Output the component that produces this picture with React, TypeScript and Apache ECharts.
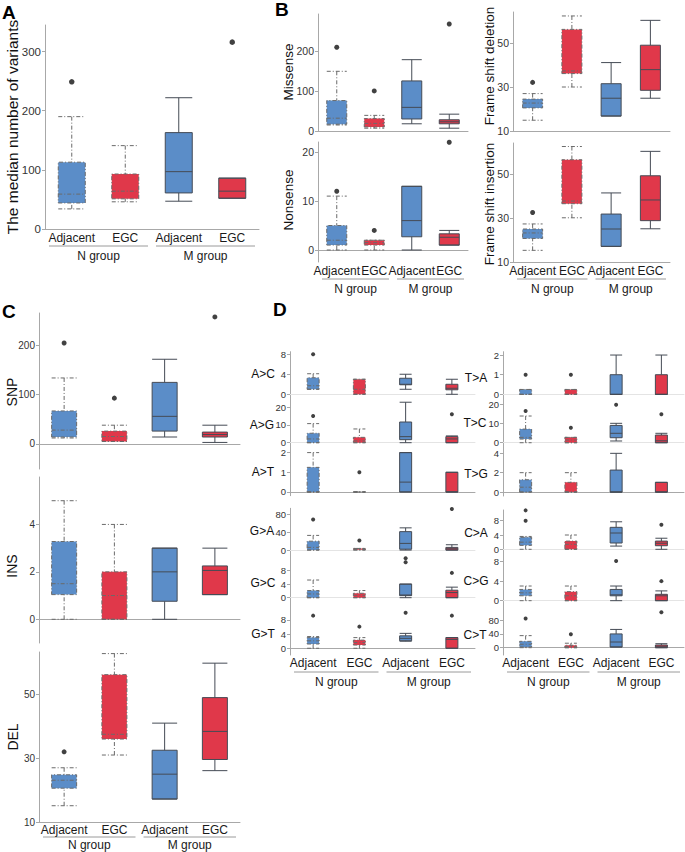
import React, { useEffect, useRef } from "react";
import * as echarts from "echarts";

// ---------- data ----------
const categories = ["Adjacent", "EGC", "Adjacent", "EGC"];
const groups = ["N group", "M group"];

// box values: [min, Q1, median, Q3, max]; outliers: [categoryIndex, value]
const variantsBox = [[34, 44, 59, 113, 190], [46, 51, 64, 93, 141], [47, 61, 97, 163, 222], [52, 52, 64, 86, 86]];
const variantsOut = [[0, 249], [3, 316]];

const missenseBox = [[15, 17, 32, 76, 149], [7, 10, 19, 31, 39], [18, 30, 59, 125, 178], [7, 18, 23, 28, 42]];
const missenseOut = [[0, 209], [1, 100], [3, 267]];
const nonsenseBox = [[0, 1, 2, 5, 11], [0, 1, 1.5, 2, 2], [0, 2.7, 6, 13, 13], [1, 1, 2.6, 3.3, 4]];
const nonsenseOut = [[0, 12], [1, 4], [3, 22]];
const fsDelBox = [[14.9, 20.5, 22.7, 24.5, 27], [30, 36.1, 37.3, 56.2, 62.3], [16.8, 16.8, 24.9, 31.5, 41.1], [24.9, 28.5, 37.9, 49, 60.3]];
const fsDelOut = [[0, 32.1]];
const fsInsBox = [[15.3, 20.7, 23.2, 25, 27.3], [30.1, 36.5, 37.7, 56.5, 62.5], [17.1, 17.1, 25, 31.8, 41.4], [25.1, 28.8, 38.2, 49.2, 60.3]];
const fsInsOut = [[0, 32.5]];

const snpBox = [[12, 14, 28, 67, 134], [5, 5, 15, 26, 38], [14, 26, 56, 125, 172], [3, 14, 19, 24, 38]];
const snpOut = [[0, 205], [1, 93], [3, 258]];
const insBox = [[0, 1.04, 1.5, 3.28, 5], [0, 0, 1, 2, 4], [0, 0.76, 2, 3, 3], [1.04, 1.04, 2.06, 2.25, 3]];
const insOut: number[][] = [];
const delBox = [[15.1, 20.6, 23.1, 24.8, 27], [31, 36, 37.5, 56.2, 62.8], [17.2, 17.2, 25, 32.5, 41], [26.1, 29.6, 38.4, 49, 59.8]];
const delOut = [[0, 32]];

const acBox = [[1, 1, 1.7, 3.3, 4.1], [0, 0, 1, 3, 3], [1, 1.9, 2, 3.2, 4], [0, 0.9, 1.2, 2, 3]];
const acOut = [[0, 8]];
const agBox = [[0, 0, 2.1, 5.3, 10.7], [0, 0, 1, 3, 7.7], [0, 1.7, 3.4, 11.6, 22.7], [0, 0, 2.1, 3.4, 3.8]];
const agOut = [[0, 15], [3, 16]];
const atBox = [[0, 0, 0, 1.25, 2], [0, 0, 0, 0, 0], [0, 0, 0.5, 2, 2], [0, 0, 0, 1, 1]];
const atOut = [[1, 1]];
const gaBox = [[0, 0, 6, 20, 33], [0, 0.5, 2, 3.7, 3.7], [0, 2, 15, 41.5, 50], [0, 0, 3, 6, 12]];
const gaOut = [[0, 69], [1, 21.5], [3, 92.6]];
const gcBox = [[0, 0, 1.1, 2.1, 5.2], [0, 0, 0.7, 1.3, 2.1], [0, 0.6, 0.8, 4, 4], [0, 0, 1.5, 2.2, 3.1]];
const gcOut = [[2, 11.6], [2, 10.4], [3, 7.3]];
const gtBox = [[0, 1.2, 2.1, 3, 3.3], [0, 0.9, 1.6, 2.3, 3], [2, 2.1, 2.8, 3.5, 4.2], [0, 0, 2.5, 3, 3]];
const gtOut = [[0, 9.2], [1, 6.1], [2, 10], [3, 9.2]];
const taBox = [[0, 0, 0, 0.25, 0.25], [0, 0, 0, 0.25, 0.25], [0, 0, 0, 1, 2], [0, 0, 0, 1, 2]];
const taOut = [[0, 1], [1, 1]];
const tcBox = [[0, 1.9, 2.8, 7.1, 13.9], [0, 0, 1.4, 2.8, 2.8], [0.9, 2.6, 4.9, 9, 10.1], [0, 0, 1, 4, 4.9]];
const tcOut = [[0, 16.5], [1, 7.8], [2, 19.8], [3, 14.8]];
const tgBox = [[0, 0, 0.5, 1.27, 2], [0, 0, 0, 1, 2], [0, 0, 0, 2.27, 4], [0, 0, 0, 1, 1]];
const tgOut: number[][] = [];
const caBox = [[0, 1.1, 2, 3.36, 3.6], [0, 0, 1.4, 2.3, 4], [0.9, 1.76, 4.56, 6.15, 7.7], [0, 1, 1.7, 2.3, 3.1]];
const caOut = [[0, 10.9], [0, 8], [3, 6.9]];
const cgBox = [[0, 1, 1.6, 2.3, 3], [0, 0, 1, 1.85, 3], [0, 1, 1.2, 2.3, 3], [0, 0, 1, 1.3, 2]];
const cgOut = [[2, 8.1], [3, 4]];
const ctBox = [[0, 2, 10, 18.5, 35], [0, 0, 3, 7, 13], [2, 2, 16.5, 40, 53], [0, 0, 4, 7.8, 11.6]];
const ctOut = [[0, 85], [1, 39], [3, 102.6]];

// ---------- layout ----------
const FONT = "Liberation Sans, Arial, sans-serif";
const BLUE = "#5b8dc8";
const RED = "#e0384a";
const AXIS = "#a8a8a8";
const SEP = "#e4e4e4";

type Plot = {
  box: number[][]; out: number[][];
  left: number; top: number; width: number; height: number;
  min: number; max: number; ticks: number[];
  boxW: number; tickFont: number; dot: number;
  labels?: boolean; line?: string; labelMargin?: number;
  gLine?: number; gText?: number;
};

const DL = { left: 290, width: 185 };
const DR = { left: 503, width: 181 };
const dBase = { boxW: 12, tickFont: 9.5, dot: 4 };

const plots: Plot[] = [
  { box: variantsBox, out: variantsOut, left: 45, top: 25, width: 214, height: 204, min: 0, max: 345, ticks: [0, 100, 200, 300], boxW: 27, tickFont: 11.5, dot: 5.5, labels: true },
  { box: missenseBox, out: missenseOut, left: 318, top: 14, width: 150, height: 117, min: 0, max: 292, ticks: [0, 100, 200], boxW: 20, tickFont: 10.5, dot: 5 },
  { box: nonsenseBox, out: nonsenseOut, left: 318, top: 142, width: 150, height: 120, min: -2.45, max: 22.05, ticks: [0, 10, 20], boxW: 20, tickFont: 10.5, dot: 5, labels: true },
  { box: fsDelBox, out: fsDelOut, left: 513, top: 12, width: 157, height: 119, min: 10, max: 64.1, ticks: [10, 30, 50], boxW: 20, tickFont: 10.5, dot: 5 },
  { box: fsInsBox, out: fsInsOut, left: 513, top: 143, width: 157, height: 119, min: 10, max: 64.1, ticks: [10, 30, 50], boxW: 20, tickFont: 10.5, dot: 5, labels: true },
  { box: snpBox, out: snpOut, left: 39, top: 313, width: 201, height: 156, min: -51, max: 266, ticks: [0, 100, 200], boxW: 25, tickFont: 10, dot: 5 },
  { box: insBox, out: insOut, left: 39, top: 477, width: 201, height: 166, min: -1, max: 6, ticks: [0, 2, 4], boxW: 25, tickFont: 10, dot: 5 },
  { box: delBox, out: delOut, left: 39, top: 652, width: 201, height: 170, min: 10, max: 63.3, ticks: [10, 30, 50], boxW: 25, tickFont: 10, dot: 5, labels: true, labelMargin: 2, gLine: 15, gText: 23 },
  { box: acBox, out: acOut, ...DL, ...dBase, top: 351.7, height: 46.6, min: -0.8, max: 8.5, ticks: [0, 4, 8], line: SEP },
  { box: agBox, out: agOut, ...DL, ...dBase, top: 398.3, height: 48.4, min: -2.25, max: 24.9, ticks: [0, 10, 20], line: SEP },
  { box: atBox, out: atOut, ...DL, ...dBase, top: 446.7, height: 49, min: -0.19, max: 2.3, ticks: [0, 1, 2] },
  { box: gaBox, out: gaOut, ...DL, ...dBase, top: 508.3, height: 46.7, min: -11.1, max: 94, ticks: [0, 40, 80], line: SEP },
  { box: gcBox, out: gcOut, ...DL, ...dBase, top: 555, height: 50, min: -2.15, max: 12.56, ticks: [0, 4, 8], line: SEP },
  { box: gtBox, out: gtOut, ...DL, ...dBase, top: 605, height: 50, min: -1.9, max: 12.2, ticks: [0, 4, 8], labels: true, labelMargin: 2 },
  { box: taBox, out: taOut, ...DR, ...dBase, top: 351.7, height: 47.6, min: -0.25, max: 2.17, ticks: [0, 1, 2], line: SEP },
  { box: tcBox, out: tcOut, ...DR, ...dBase, top: 399.3, height: 49, min: -2.9, max: 22.6, ticks: [0, 10, 20], line: SEP },
  { box: tgBox, out: tgOut, ...DR, ...dBase, top: 448.3, height: 47.7, min: -0.41, max: 4.52, ticks: [0, 2, 4] },
  { box: caBox, out: caOut, ...DR, ...dBase, top: 510, height: 46.7, min: -2.07, max: 11, ticks: [0, 4, 8], line: SEP },
  { box: cgBox, out: cgOut, ...DR, ...dBase, top: 556.7, height: 49.3, min: -1.09, max: 9.0, ticks: [0, 4, 8], line: SEP },
  { box: ctBox, out: ctOut, ...DR, ...dBase, top: 606, height: 49, min: -21.2, max: 121, ticks: [0, 40, 80], labels: true, labelMargin: 2 },
];

const panelLetters = [
  { t: "A", x: 2, y: 12 }, { t: "B", x: 275, y: 9 }, { t: "C", x: 2, y: 311 }, { t: "D", x: 273, y: 309.5 },
];
const rotTitles = [
  { t: "The median number of variants", x: 12, y: 127, size: 15.5 },
  { t: "Missense", x: 288, y: 72, size: 13.5 },
  { t: "Nonsense", x: 288, y: 200, size: 13.5 },
  { t: "Frame shift deletion", x: 489, y: 66, size: 13.5 },
  { t: "Frame shift insertion", x: 489, y: 204, size: 13.5 },
  { t: "SNP", x: 12, y: 392, size: 14 },
  { t: "INS", x: 12, y: 566, size: 14 },
  { t: "DEL", x: 13, y: 737, size: 14 },
];
const dNames = [
  { t: "A>C", x: 263, y: 374.3 }, { t: "A>G", x: 262, y: 425.3 }, { t: "A>T", x: 263, y: 472 },
  { t: "G>A", x: 262, y: 531 }, { t: "G>C", x: 263, y: 582.8 }, { t: "G>T", x: 263, y: 634 },
  { t: "T>A", x: 476, y: 377.8 }, { t: "T>C", x: 475, y: 423 }, { t: "T>G", x: 476, y: 473.7 },
  { t: "C>A", x: 476, y: 532.5 }, { t: "C>G", x: 476, y: 581.3 }, { t: "C>T", x: 475, y: 635 },
];

function boxStyle(k: number) {
  const isN = k < 2;
  return {
    color: k % 2 === 0 ? BLUE : RED,
    borderColor: isN ? "#6a6a6a" : "#454b55",
    borderWidth: 1,
    borderType: isN ? [4, 2, 1, 2] : "solid",
  };
}

function buildOption() {
  const grid: any[] = [];
  const xAxis: any[] = [];
  const yAxis: any[] = [];
  const series: any[] = [];
  const graphic: any[] = [];

  plots.forEach((p, i) => {
    grid.push({ left: p.left, top: p.top, width: p.width, height: p.height, containLabel: false, outerBoundsMode: "none" });
    xAxis.push({
      type: "category", gridIndex: i, data: categories.map((_, k) => String(k)),
      axisTick: { show: false },
      axisLine: { show: true, lineStyle: { color: p.line || AXIS, width: 1 } },
      axisLabel: {
        show: !!p.labels, interval: 0, margin: p.labelMargin ?? 3, fontSize: 12, color: "#1a1a1a", fontFamily: FONT,
        formatter: (v: string) => categories[Number(v)],
      },
      splitLine: { show: false },
    });
    yAxis.push({
      type: "value", gridIndex: i, min: p.min, max: p.max,
      axisLine: { show: true, lineStyle: { color: AXIS, width: 1 } },
      axisTick: { show: true, length: 3, customValues: p.ticks, lineStyle: { color: AXIS } },
      axisLabel: { customValues: p.ticks, fontSize: p.tickFont, color: "#333", margin: 4, fontFamily: FONT },
      splitLine: { show: false },
    });
    series.push({
      type: "boxplot", xAxisIndex: i, yAxisIndex: i, boxWidth: [p.boxW, p.boxW],
      data: p.box.map((v, k) => ({ value: v, itemStyle: boxStyle(k) })),
    });
    if (p.out.length) {
      series.push({
        type: "scatter", xAxisIndex: i, yAxisIndex: i, data: p.out, symbolSize: p.dot, clip: false,
        itemStyle: { color: "#111" },
      });
    }
    if (p.labels) {
      const band = p.width / 4;
      const pad = 4;
      const yLine = p.top + p.height + (p.gLine ?? 17);
      const yText = p.top + p.height + (p.gText ?? 26.5);
      groups.forEach((g, gi) => {
        const x1 = p.left + gi * 2 * band + pad;
        const x2 = p.left + (gi + 1) * 2 * band - pad;
        graphic.push({ type: "line", shape: { x1, y1: yLine, x2, y2: yLine }, style: { stroke: "#9a9a9a", lineWidth: 1 } });
        graphic.push({
          type: "text", x: (x1 + x2) / 2, y: yText,
          style: { text: g, font: `12px ${FONT}`, fill: "#1a1a1a", align: "center", verticalAlign: "middle" },
        });
      });
    }
  });

  panelLetters.forEach((l) => graphic.push({
    type: "text", x: l.x, y: l.y,
    style: { text: l.t, font: `bold 19px ${FONT}`, fill: "#000", align: "left", verticalAlign: "middle" },
  }));
  rotTitles.forEach((t) => graphic.push({
    type: "text", x: t.x, y: t.y, rotation: Math.PI / 2,
    style: { text: t.t, font: `${t.size}px ${FONT}`, fill: "#111", align: "center", verticalAlign: "middle" },
  }));
  dNames.forEach((t) => graphic.push({
    type: "text", x: t.x, y: t.y,
    style: { text: t.t, font: `12px ${FONT}`, fill: "#111", align: "center", verticalAlign: "middle" },
  }));

  return {
    animation: false,
    backgroundColor: "#fff",
    textStyle: { fontFamily: FONT },
    grid, xAxis, yAxis, series, graphic,
  };
}

export default function App() {
  const ref = useRef<HTMLDivElement>(null);
  useEffect(() => {
    document.body.style.margin = "0";
    const chart = echarts.init(ref.current!, undefined, { renderer: "svg" });
    chart.setOption(buildOption() as any);
    return () => chart.dispose();
  }, []);
  return <div ref={ref} style={{ width: 685, height: 852 }} />;
}
